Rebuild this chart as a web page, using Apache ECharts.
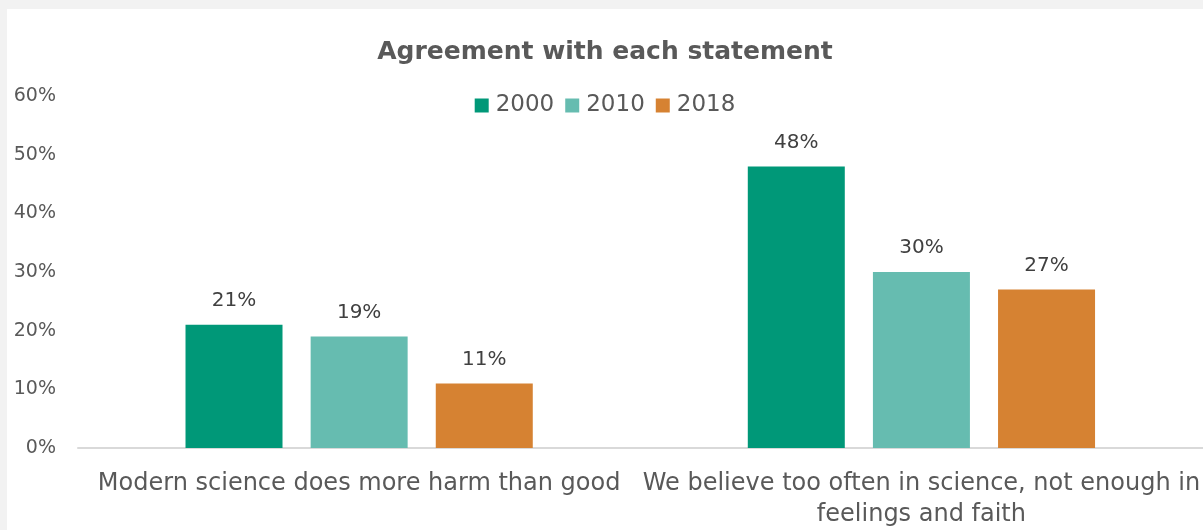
<!DOCTYPE html>
<html>
<head>
<meta charset="utf-8">
<script src="https://cdn.jsdelivr.net/npm/echarts@6/dist/echarts.min.js"></script>
<style>
  html, body { margin: 0; padding: 0; background: #f2f2f2; width: 1203px; height: 530px; overflow: hidden; }
  #chart { position: absolute; left: 7px; top: 9px; width: 1196px; height: 521px; background: #ffffff; }
</style>
</head>
<body>
<div id="chart"></div>
<script>
const categories = ["Modern science does more harm than good", "We believe too often in science, not enough in\nfeelings and faith"];
const seriesNames = ["2000", "2010", "2018"];
const values2000 = [21, 48];
const values2010 = [19, 30];
const values2018 = [11, 27];
const colors = ["#009878", "#66bcb0", "#d68232"];

const chart = echarts.init(document.getElementById('chart'));
const font = "DejaVu Sans";
const txt = "#595959";
const allVals = [values2000, values2010, values2018];
chart.setOption({
  animation: false,
  title: {
    text: "Agreement with each statement",
    left: 'center', top: 26,
    textStyle: { fontFamily: font, fontSize: 25, fontWeight: 'bold', color: txt }
  },
  legend: {
    data: seriesNames, top: 80, left: 'center',
    icon: 'rect', itemWidth: 14, itemHeight: 14, itemGap: 11,
    textStyle: { fontFamily: font, fontSize: 23, color: txt, padding: [0, 0, 0, 2] }
  },
  grid: { left: 71, right: 0, top: 87, bottom: 77, containLabel: false },
  xAxis: {
    type: 'category', data: categories,
    axisLine: { lineStyle: { color: '#d9d9d9', width: 2 } },
    axisTick: { show: false },
    axisLabel: { interval: 0, fontFamily: font, fontSize: 24, color: txt, margin: 20, lineHeight: 31 }
  },
  yAxis: {
    type: 'value', min: 0, max: 60, interval: 10,
    splitLine: { show: false },
    axisLine: { show: false }, axisTick: { show: false },
    axisLabel: { fontFamily: font, fontSize: 19, color: txt, margin: 22, formatter: v => v + '%' }
  },
  series: seriesNames.map((name, i) => ({
    name, type: 'bar', data: allVals[i],
    barWidth: 97, barGap: '29%',
    itemStyle: { color: colors[i] },
    label: { show: true, position: 'top', distance: 14, fontFamily: font, fontSize: 20, color: '#404040', formatter: p => p.value + '%' }
  }))
});
</script>
</body>
</html>
